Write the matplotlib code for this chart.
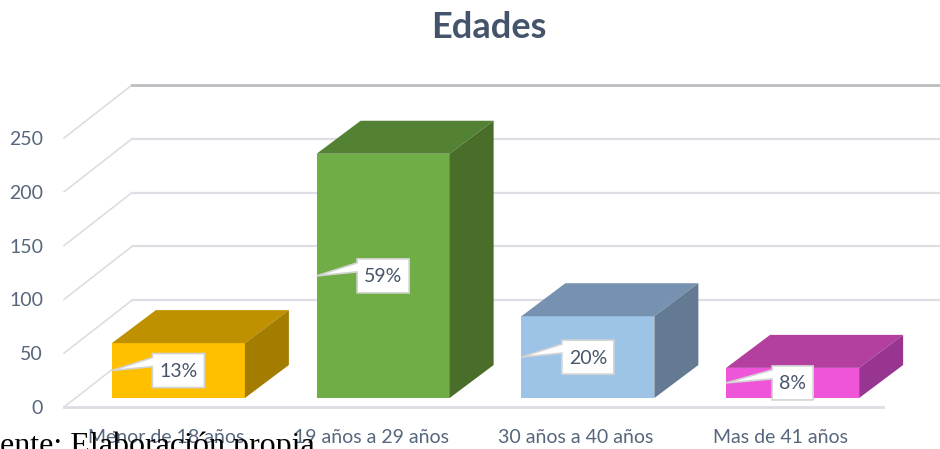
import matplotlib
matplotlib.use("Agg")
import matplotlib.pyplot as plt
from matplotlib.patches import Polygon

categories = ["Menor de 18 años", "19 años a 29 años", "30 años a 40 años", "Mas de 41 años"]
values = [51, 227, 76, 28]
percent_labels = ["13%", "59%", "20%", "8%"]
y_ticks = [0, 50, 100, 150, 200, 250]
front_colors = ["#FFC000", "#70AD47", "#9DC3E6", "#EE55D8"]
top_colors = ["#BF9000", "#548235", "#7692B0", "#B3409F"]
side_colors = ["#A37C00", "#4A6D2A", "#637A92", "#983590"]

W, H = 940, 449
L, R, B, T = 64, 883, 407, 138
fig = plt.figure(figsize=(W / 100, H / 100), dpi=100, facecolor="white")
ax = fig.add_axes([L / W, 1 - B / H, (R - L) / W, (B - T) / H])
ax.set_xlim(-0.5, 3.5)
ax.set_ylim(0, 250)
for s in ax.spines.values():
    s.set_visible(False)
ax.patch.set_visible(False)

PX = 4.0 / (R - L)          # x data units per pixel
PY = 250.0 / (B - T)        # y data units per pixel
DEPTH_X, DEPTH_Y = 68 * PX, 53 * PY     # wall depth
BAR_X0, BAR_Y0 = 12 * PX, 9 * PY        # bar offset from front plane
BAR_DX, BAR_DY = 44 * PX, 33 * PY       # bar depth
BAR_W = 133 * PX

SLATE = "#56667C"
ax.set_xticks(range(len(categories)), categories)
ax.set_yticks(y_ticks)
ax.tick_params(axis="x", length=0, pad=16, labelsize=14, labelcolor=SLATE)
ax.tick_params(axis="y", length=0, pad=15, labelsize=14, labelcolor=SLATE)
for t in ax.get_xticklabels() + ax.get_yticklabels():
    t.set_fontfamily("Lato")

# walls: diagonal and back gridlines
for v in y_ticks:
    top = v == y_ticks[-1]
    ax.plot([-0.5, -0.5 + DEPTH_X], [v, v + DEPTH_Y], color="#DADBDE", lw=1.1,
            clip_on=False, zorder=1)
    if v > 0:
        ax.plot([-0.5 + DEPTH_X, 3.5 + DEPTH_X], [v + DEPTH_Y, v + DEPTH_Y],
                color="#BCBDC1" if top else "#DDDFE5", lw=2.0 if top else 1.6,
                clip_on=False, zorder=1)
ax.plot([-0.5, 3.5], [0, 0], color="#DCDDE3", lw=2.0, clip_on=False, zorder=1)

# bars
for i, v in enumerate(values):
    x0 = i + BAR_X0 - BAR_W / 2
    x1 = x0 + BAR_W
    y0, y1 = BAR_Y0, BAR_Y0 + v
    ax.bar(i + BAR_X0, v, BAR_W, bottom=BAR_Y0, color=front_colors[i], zorder=3, clip_on=False)
    ax.add_patch(Polygon([(x0, y1), (x1, y1), (x1 + BAR_DX, y1 + BAR_DY), (x0 + BAR_DX, y1 + BAR_DY)],
                         closed=True, fc=top_colors[i], ec="none", zorder=3, clip_on=False))
    ax.add_patch(Polygon([(x1, y0), (x1, y1), (x1 + BAR_DX, y1 + BAR_DY), (x1 + BAR_DX, y0 + BAR_DY)],
                         closed=True, fc=side_colors[i], ec="none", zorder=3, clip_on=False))
    # callout label centred on the front face, tail to the left edge
    cx, cy = i + BAR_X0, BAR_Y0 + v / 2
    hw = (20.5 if len(percent_labels[i]) == 2 else 26) * PX
    hh = 17 * PY
    pts = [(cx - hw, cy + hh), (cx + hw, cy + hh), (cx + hw, cy - hh), (cx - hw, cy - hh),
           (cx - hw, cy + 4 * PY), (x0, cy), (cx - hw, cy + 13 * PY)]
    ax.add_patch(Polygon(pts, closed=True, fc="white", ec="#D3D3D3", lw=1.2, zorder=4, clip_on=False))
    ax.text(cx, cy - 1 * PY, percent_labels[i], ha="center", va="center", family="Lato",
            fontsize=14, color="#47556B", zorder=5)

fig.text(489 / W, 1 - 28 / H, "Edades", ha="center", va="center", family="Lato",
         fontsize=26, fontweight="bold", color="#44546A")
fig.text(0, 1 - 454 / H, "ente: Elaboración propia", ha="left", va="baseline",
         family="Liberation Serif", fontsize=23, color="black", zorder=10)

fig.savefig("out.png", dpi=100)
